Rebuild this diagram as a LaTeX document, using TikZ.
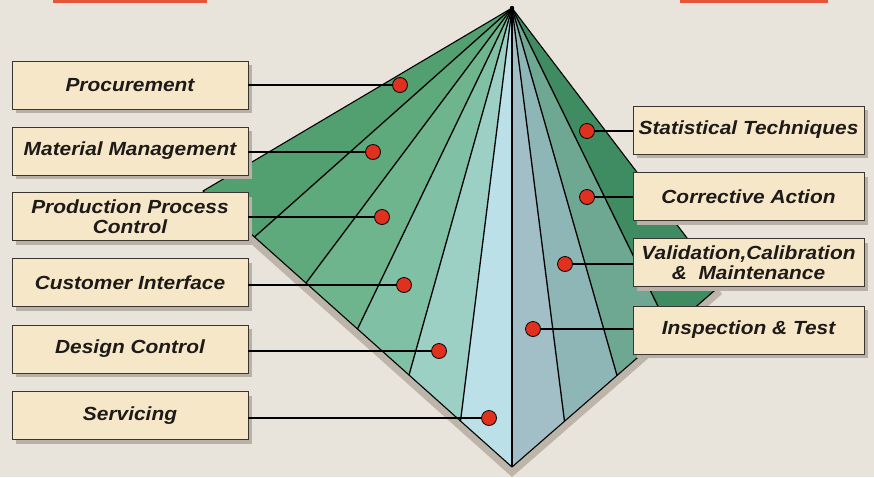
\documentclass[tikz,border=0pt]{standalone}
\usepackage{fontspec}
\setmainfont{Liberation Sans}
\newfontfamily\boxfont[FakeStretch=1.1]{Liberation Sans}
\usetikzlibrary{calc,shadows}
\definecolor{bg}{HTML}{E8E4DB}
\definecolor{boxfill}{HTML}{F6E7C9}
\definecolor{boxline}{HTML}{3A3530}
\definecolor{boxshadow}{HTML}{B9B1A8}
\definecolor{pshadow}{HTML}{BDB4AA}
\definecolor{redbar}{HTML}{E4553A}
\definecolor{dotred}{HTML}{E0301E}
\definecolor{txt}{HTML}{1E1A18}
\definecolor{sA}{HTML}{52A070}
\definecolor{sB}{HTML}{5FAA7D}
\definecolor{sC}{HTML}{6EB48C}
\definecolor{sD}{HTML}{80C0A4}
\definecolor{sE}{HTML}{9CD0C4}
\definecolor{sF}{HTML}{BCE0E8}
\definecolor{rA}{HTML}{A2BFC8}
\definecolor{rB}{HTML}{8FB6B6}
\definecolor{rC}{HTML}{6EA892}
\definecolor{rD}{HTML}{3F8C62}
\tikzset{
  labelbox/.style={rectangle, draw=boxline, line width=0.8pt, fill=boxfill,
    minimum height=48pt, inner sep=2pt, align=center, text=txt,
    font=\boxfont\fontsize{19}{19.5}\selectfont\bfseries\itshape,
    drop shadow={shadow xshift=4pt, shadow yshift=-4pt, fill=boxshadow, opacity=1}},
  leftbox/.style={labelbox, minimum width=236pt},
  rightbox/.style={labelbox, minimum width=231pt},
  reddot/.style={circle, fill=dotred, draw=black, line width=0.8pt, minimum size=15pt, inner sep=0pt},
  conn/.style={draw=black, line width=1.6pt},
  fanline/.style={draw=black, line width=1.3pt},
}
\begin{document}
\begin{tikzpicture}[x=1pt, y=-1pt]
\useasboundingbox (0,0) rectangle (874,477);
\fill[bg] (0,0) rectangle (874,477);
% top red bars
\fill[redbar] (53,-5) rectangle (207,3);
\fill[redbar] (680,-5) rectangle (828,3);
% pyramid corners
\coordinate (A) at (512,8);
\coordinate (L) at (203,191);
\coordinate (B) at (512,467);
\coordinate (R) at (722,284);
\foreach \i in {1,...,5} {\coordinate (P\i) at ($(L)!\i/6!(B)$);}
\foreach \j in {1,2,3} {\coordinate (Q\j) at ($(B)!\j/4!(R)$);}
% shadow
\fill[pshadow] ($(A)+(0,10)$) -- ($(L)+(0,10)$) -- ($(B)+(0,10)$) -- ($(R)+(0,10)$) -- cycle;
% left face strips
\fill[sA] (A) -- (L) -- (P1) -- cycle;
\fill[sB] (A) -- (P1) -- (P2) -- cycle;
\fill[sC] (A) -- (P2) -- (P3) -- cycle;
\fill[sD] (A) -- (P3) -- (P4) -- cycle;
\fill[sE] (A) -- (P4) -- (P5) -- cycle;
\fill[sF] (A) -- (P5) -- (B) -- cycle;
% right face strips
\fill[rA] (A) -- (B) -- (Q1) -- cycle;
\fill[rB] (A) -- (Q1) -- (Q2) -- cycle;
\fill[rC] (A) -- (Q2) -- (Q3) -- cycle;
\fill[rD] (A) -- (Q3) -- (R) -- cycle;
% fan lines
\foreach \i in {1,...,5} {\draw[fanline] (A) -- (P\i);}
\foreach \j in {1,2,3} {\draw[fanline] (A) -- (Q\j);}
\draw[fanline] (A) -- (B);
\draw[black, line width=1.1pt, line join=round] (A) -- (L) -- (B) -- (R) -- cycle;
\fill[black] (A) circle (2.2pt);
% dots
\node[reddot] (d1) at (400,85) {};
\node[reddot] (d2) at (373,152) {};
\node[reddot] (d3) at (382,217) {};
\node[reddot] (d4) at (404,285) {};
\node[reddot] (d5) at (439,351) {};
\node[reddot] (d6) at (489,418) {};
\node[reddot] (e1) at (587,131) {};
\node[reddot] (e2) at (587,197) {};
\node[reddot] (e3) at (565,264) {};
\node[reddot] (e4) at (533,329) {};
% boxes
\node[leftbox] (b1) at (130,85) {Procurement};
\node[leftbox] (b2) at (130,151) {Material Management};
\node[leftbox] (b3) at (130,216.5) {Production Process\\Control};
\node[leftbox] (b4) at (130,282.5) {Customer Interface};
\node[leftbox] (b5) at (130,349) {Design Control};
\node[leftbox] (b6) at (130,415.5) {Servicing};
\node[rightbox] (c1) at (748.5,130) {Statistical Techniques};
\node[rightbox] (c2) at (748.5,196.5) {Corrective Action};
\node[rightbox] (c3) at (748.5,262.5) {Validation,Calibration\\\&\ \ Maintenance};
\node[rightbox] (c4) at (748.5,330) {Inspection \& Test};
% connectors
\draw[conn] (b1.east |- d1) -- (d1.west);
\draw[conn] (b2.east |- d2) -- (d2.west);
\draw[conn] (b3.east |- d3) -- (d3.west);
\draw[conn] (b4.east |- d4) -- (d4.west);
\draw[conn] (b5.east |- d5) -- (d5.west);
\draw[conn] (b6.east |- d6) -- (d6.west);
\draw[conn] (c1.west |- e1) -- (e1.east);
\draw[conn] (c2.west |- e2) -- (e2.east);
\draw[conn] (c3.west |- e3) -- (e3.east);
\draw[conn] (c4.west |- e4) -- (e4.east);
\end{tikzpicture}
\end{document}
